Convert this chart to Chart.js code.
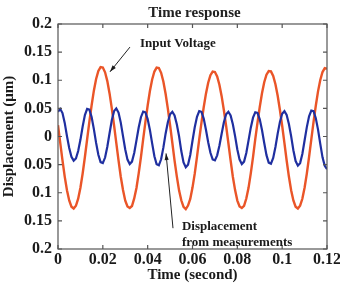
<!DOCTYPE html>
<html>
<head>
<meta charset="utf-8">
<script src="https://cdn.jsdelivr.net/npm/chart.js@4"></script>
<style>
  body { margin: 0; background: #fff; }
  #wrap { width: 340px; height: 284px; position: relative; }
</style>
</head>
<body>
<div id="wrap"><canvas id="timeChart"></canvas></div>
<script>
// values, one sample every millisecond
const sampleStep = 0.001;

const inputVoltage = [
  0.020, -0.0113, -0.0426, -0.0713, -0.0955, -0.1137, -0.1248, -0.128, -0.1231, -0.1106, -0.0911, -0.0658, -0.0365, -0.0049,
  0.0263, 0.0556, 0.0815, 0.1022, 0.1164, 0.1234, 0.1226, 0.1141, 0.0985, 0.0766, 0.0500,
  0.0202, -0.0115, -0.0424, -0.0716, -0.0951, -0.1140, -0.1245, -0.127, -0.1236, -0.1101, -0.0915, -0.0655, -0.0368, -0.0046,
  0.0261, 0.0551, 0.0808, 0.1014, 0.1155, 0.1224, 0.1216, 0.1132, 0.0977, 0.0760, 0.0496,
  0.0200, -0.0111, -0.0428, -0.0710, -0.0958, -0.1134, -0.1252, -0.129, -0.1228, -0.1109, -0.0908, -0.0661, -0.0362, -0.0052,
  0.0246, 0.0520, 0.0762, 0.0956, 0.1089, 0.1154, 0.1147, 0.1067, 0.0921, 0.0717, 0.0467,
  0.0189, -0.0116, -0.0423, -0.0715, -0.0953, -0.1139, -0.1244, -0.127, -0.1234, -0.1103, -0.0913, -0.0656, -0.0367, -0.0047,
  0.0248, 0.0524, 0.0769, 0.0964, 0.1099, 0.1164, 0.1157, 0.1076, 0.0929, 0.0723, 0.0472,
  0.0191, -0.0112, -0.0427, -0.0712, -0.0956, -0.1136, -0.1249, -0.128, -0.1230, -0.1107, -0.0910, -0.0659, -0.0364, -0.0050,
  0.0259, 0.0547, 0.0802, 0.1005, 0.1146, 0.1214, 0.1206
];

const measuredDisp = [
  0.044, 0.049, 0.0417, 0.0242, 0.0006, -0.0203, -0.036, -0.0429, -0.0391, -0.0257, -0.0059,
  0.0178, 0.0381, 0.049, 0.0478, 0.0347, 0.0131, -0.0114, -0.0324, -0.0455, -0.0473, -0.0374, -0.0182,
  0.0057, 0.0289, 0.0450, 0.0500, 0.0426, 0.0247, 0.0007, -0.0231, -0.0411, -0.0489, -0.0446, -0.0293, -0.0068,
  0.0160, 0.0343, 0.0441, 0.0430, 0.0312, 0.0117, -0.0123, -0.0351, -0.0492, -0.0512, -0.0405, -0.0198,
  0.0050, 0.0254, 0.0396, 0.0440, 0.0374, 0.0217, 0.0006, -0.0259, -0.0461, -0.0548, -0.0501, -0.0329, -0.0076,
  0.0164, 0.0351, 0.0451, 0.0439, 0.0319, 0.0120, -0.0102, -0.0290, -0.0407, -0.0424, -0.0335, -0.0163,
  0.0050, 0.0254, 0.0396, 0.0440, 0.0374, 0.0217, 0.0006, -0.0231, -0.0411, -0.0489, -0.0446, -0.0293, -0.0068,
  0.0157, 0.0335, 0.0431, 0.0420, 0.0305, 0.0115, -0.0116, -0.0331, -0.0464, -0.0483, -0.0381, -0.0186,
  0.0051, 0.0260, 0.0405, 0.0450, 0.0383, 0.0222, 0.0006, -0.0245, -0.0436, -0.0518, -0.0473, -0.0311, -0.0072,
  0.0167, 0.0358, 0.0461, 0.0449, 0.0326, 0.0123, -0.0130, -0.0371, -0.0521, -0.058
];

const chartTitle = 'Time response';
const xTitle = 'Time (second)';
const yTitle = 'Displacement (\u03bcm)';
const xRange = [0, 0.12, 0.02];
const yRange = [-0.2, 0.2, 0.05];

// annotation texts and arrows, in data units
const notes = [
  { text: 'Input Voltage', x: 0.0366, y: 0.159 },
  { text: 'Displacement', x: 0.0553, y: -0.166 },
  { text: 'from measurements', x: 0.0553, y: -0.194 }
];
const arrows = [
  { from: [0.0321, 0.159], to: [0.0232, 0.115] },
  { from: [0.0513, -0.163], to: [0.0482, -0.030] }
];

const serif = 'Liberation Serif';
const times = inputVoltage.map((_, i) => i * sampleStep);
const toPoints = vals => vals.map((v, i) => ({ x: times[i], y: v }));
const fmt = v => String(parseFloat(Math.abs(v).toFixed(2)));

// frame with inward ticks, title and notes
const frameAndNotes = {
  id: 'frameAndNotes',
  afterDraw(chart) {
    const { ctx, chartArea: a, scales: { x, y } } = chart;
    ctx.save();
    ctx.strokeStyle = '#555';
    ctx.lineWidth = 1.2;
    ctx.strokeRect(a.left, a.top, a.right - a.left, a.bottom - a.top);
    ctx.beginPath();
    x.ticks.forEach(t => {
      const px = x.getPixelForValue(t.value);
      ctx.moveTo(px, a.bottom); ctx.lineTo(px, a.bottom - 4);
      ctx.moveTo(px, a.top); ctx.lineTo(px, a.top + 4);
    });
    y.ticks.forEach(t => {
      const py = y.getPixelForValue(t.value);
      ctx.moveTo(a.left, py); ctx.lineTo(a.left + 4, py);
      ctx.moveTo(a.right, py); ctx.lineTo(a.right - 4, py);
    });
    ctx.stroke();

    ctx.fillStyle = '#222';
    ctx.font = 'bold 15px "' + serif + '"';
    ctx.textAlign = 'center';
    ctx.textBaseline = 'alphabetic';
    ctx.fillText(chartTitle, (a.left + a.right) / 2 + 2, 17);

    ctx.fillStyle = '#1a1a1a';
    ctx.font = 'bold 13px "' + serif + '"';
    ctx.textAlign = 'left';
    notes.forEach(n => ctx.fillText(n.text, x.getPixelForValue(n.x), y.getPixelForValue(n.y)));

    ctx.strokeStyle = '#222';
    ctx.lineWidth = 1;
    arrows.forEach(ar => {
      const x0 = x.getPixelForValue(ar.from[0]), y0 = y.getPixelForValue(ar.from[1]);
      const x1 = x.getPixelForValue(ar.to[0]), y1 = y.getPixelForValue(ar.to[1]);
      const ang = Math.atan2(y1 - y0, x1 - x0);
      ctx.beginPath();
      ctx.moveTo(x0, y0);
      ctx.lineTo(x1, y1);
      ctx.stroke();
      ctx.beginPath();
      ctx.moveTo(x1, y1);
      ctx.lineTo(x1 - 7 * Math.cos(ang - 0.3), y1 - 7 * Math.sin(ang - 0.3));
      ctx.lineTo(x1 - 7 * Math.cos(ang + 0.3), y1 - 7 * Math.sin(ang + 0.3));
      ctx.closePath();
      ctx.fill();
    });
    ctx.restore();
  }
};

new Chart(document.getElementById('timeChart'), {
  type: 'line',
  data: {
    datasets: [
      {
        label: 'Displacement from measurements',
        data: toPoints(measuredDisp),
        borderColor: '#1f2fa0',
        borderWidth: 2.2,
        pointRadius: 0,
        order: 0
      },
      {
        label: 'Input Voltage',
        data: toPoints(inputVoltage),
        borderColor: '#ea5528',
        borderWidth: 2.4,
        pointRadius: 0,
        order: 1
      }
    ]
  },
  options: {
    responsive: true,
    maintainAspectRatio: false,
    animation: false,
    layout: { padding: { top: 24, right: 13, left: 0, bottom: 0 } },
    plugins: { legend: { display: false }, tooltip: { enabled: false }, title: { display: false } },
    scales: {
      x: {
        type: 'linear',
        min: xRange[0],
        max: xRange[1],
        grid: { display: false, drawTicks: false },
        border: { display: false },
        ticks: {
          stepSize: xRange[2],
          padding: 1,
          color: '#1a1a1a',
          font: { family: serif, size: 16, weight: 'bold' },
          maxRotation: 0,
          callback: v => fmt(v)
        },
        title: {
          display: true,
          text: xTitle,
          color: '#1a1a1a',
          font: { family: serif, size: 15, weight: 'bold' },
          padding: 0
        },
        afterFit(s) { s.height = 35; s.paddingLeft = 0; s.paddingRight = 0; }
      },
      y: {
        min: yRange[0],
        max: yRange[1],
        grid: { display: false, drawTicks: false },
        border: { display: false },
        ticks: {
          stepSize: yRange[2],
          padding: 6,
          color: '#1a1a1a',
          font: { family: serif, size: 16, weight: 'bold' },
          callback: v => fmt(v)
        },
        title: {
          display: true,
          text: yTitle,
          color: '#1a1a1a',
          font: { family: serif, size: 15, weight: 'bold', lineHeight: 1 },
          padding: { top: 2, bottom: 0 }
        },
        afterFit(s) { s.width = 58; }
      }
    }
  },
  plugins: [frameAndNotes]
});
</script>
</body>
</html>
